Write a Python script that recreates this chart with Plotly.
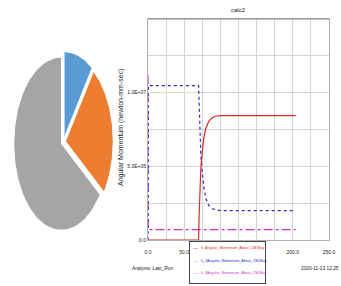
import numpy as np
import plotly.graph_objects as go

W, H = 341, 286

# ---------------- data ----------------
pie_values = [10, 25, 65]
pie_colors = ["#5B9BD5", "#ED7D31", "#A5A5A5"]

chart_title = "calc2"
y_title = "Angular Momentum (newton-mm-sec)"
x_tickvals = [0, 25, 50, 75, 100, 125, 150, 175, 200, 225, 250]
x_ticktext = ["0.0", "", "50.0", "", "100.0", "", "150.0", "", "200.0", "", "250.0"]
y_tickvals = [0, 2.5e6, 5.0e6, 7.5e6, 1.0e7, 1.25e7, 1.5e7]
y_ticktext = ["0.0", "", "5.0E+06", "", "1.0E+07", "", ""]

series_names = ["h_Angular_Momentum_About_CM.Mag",
                "h_2Angular_Momentum_About_CM.Mag",
                "h_3Angular_Momentum_About_CM.Mag"]
series_colors = ["#d92b2b", "#2a2ad0", "#d030c8"]
series_dash = ["solid", "dot", "dashdot"]
series_glyph = ["\u2014", "\u00b7\u00b7\u00b7", "-\u00b7-"]

t1 = [0, 69.9, 70.5, 71.5, 73, 75, 77, 80, 84, 88, 93, 100, 204]
h1 = [0, 0, 1.5e6, 3.3e6, 4.9e6, 6.0e6, 6.9e6, 7.6e6, 8.05e6, 8.28e6, 8.40e6, 8.44e6, 8.44e6]

t2 = [0, 0.3, 69.9, 70.5, 71.5, 73, 75, 77, 80, 84, 88, 93, 100, 204]
h2 = [0, 1.048e7, 1.048e7, 9.3e6, 7.4e6, 5.7e6, 4.6e6, 3.6e6, 2.8e6, 2.35e6, 2.15e6, 2.05e6, 2.0e6, 2.0e6]

t3 = [0, 0.4, 204]
h3 = [1.12e7, 0.7e6, 0.7e6]

t4 = [0.4, 69.9]
h4 = [1.0e7, 1.0e7]

analysis_text = "Analysis: Last_Run"
date_text = "2020-11-13 12:25"

# ---------------- layout constants ----------------
FONT = "Liberation Sans, Arial, sans-serif"
PX0, PX1, PY0, PY1 = 148, 329, 19, 240   # plot area pixels
PULL = 0.045
CX, CY, A, B = 63.4, 141.9, 47.7, 86.6   # pie ellipse center / semi-axes (px)


def px(x):
    return x / W


def py(y):
    return 1 - y / H


fig = go.Figure()

# ---------------- pie (elliptical, exploded) ----------------
total = float(sum(pie_values))
start = 0.0
for v, c in zip(pie_values, pie_colors):
    a0 = start / total * 2 * np.pi
    a1 = (start + v) / total * 2 * np.pi
    mid = (a0 + a1) / 2
    ox, oy = PULL * np.sin(mid), PULL * np.cos(mid)
    th = np.linspace(a0, a1, 80)
    xs = np.concatenate([[0], np.sin(th), [0]]) + ox
    ys = np.concatenate([[0], np.cos(th), [0]]) + oy
    fig.add_trace(go.Scatter(x=xs, y=ys, mode="lines", fill="toself", fillcolor=c,
                             line=dict(color="white", width=1),
                             xaxis="x2", yaxis="y2", showlegend=False, hoverinfo="skip"))
    start += v

# ---------------- line chart ----------------
fig.add_trace(go.Scatter(x=t4, y=h4, mode="lines", line=dict(color="#f2eaa0", width=1, dash="dot"),
                         showlegend=False, hoverinfo="skip"))
for t, h, name, col, dash in [(t3, h3, series_names[2], series_colors[2], series_dash[2]),
                              (t2, h2, series_names[1], series_colors[1], series_dash[1]),
                              (t1, h1, series_names[0], series_colors[0], series_dash[0])]:
    fig.add_trace(go.Scatter(x=t, y=h, mode="lines", name=name,
                             line=dict(color=col, width=1.2, dash=dash), showlegend=False))

fig.update_layout(
    width=W, height=H, autosize=False,
    margin=dict(l=0, r=0, t=0, b=0, pad=0),
    paper_bgcolor="white", plot_bgcolor="white",
    font=dict(family=FONT, size=6, color="#222"),
    xaxis=dict(domain=[px(PX0), px(PX1)], range=[0, 250], tickvals=x_tickvals, ticktext=x_ticktext,
               showgrid=True, gridcolor="#d4d4d4", gridwidth=1, zeroline=False, automargin=False,
               showline=True, linecolor="#b0b0b0", mirror=True, ticks="", ticklabelstandoff=7,
               tickfont=dict(size=5, family=FONT, color="#222")),
    yaxis=dict(domain=[py(PY1), py(PY0)], range=[0, 1.5e7], tickvals=y_tickvals, ticktext=y_ticktext,
               showgrid=True, gridcolor="#d4d4d4", gridwidth=1, zeroline=False, automargin=False,
               showline=True, linecolor="#b0b0b0", mirror=True, ticks="",
               tickfont=dict(size=5, family=FONT, color="#222")),
    xaxis2=dict(domain=[0, px(130)], range=[(0 - CX) / A, (130 - CX) / A], visible=False,
                fixedrange=True, automargin=False),
    yaxis2=dict(domain=[0, 1], range=[(CY - H) / B, CY / B], visible=False,
                fixedrange=True, automargin=False),
    showlegend=False,
)

# top border darker
fig.add_shape(type="line", xref="paper", yref="paper", x0=px(PX0), x1=px(PX1), y0=py(PY0), y1=py(PY0),
              line=dict(color="#888", width=1))

annotations = [
    dict(text=chart_title, x=px(238), y=py(10), xref="paper", yref="paper", showarrow=False,
         xanchor="center", yanchor="middle", font=dict(size=6, family=FONT, color="#222")),
    dict(text=y_title, x=px(121), y=py(128), xref="paper", yref="paper", showarrow=False, textangle=-90,
         xanchor="center", yanchor="middle", font=dict(size=7, family=FONT, color="#222")),
    dict(text=analysis_text, x=px(130), y=py(268), xref="paper", yref="paper", showarrow=False,
         xanchor="left", yanchor="middle", font=dict(size=4.8, family=FONT, color="#222")),
    dict(text=date_text, x=px(341), y=py(268), xref="paper", yref="paper", showarrow=False,
         xanchor="right", yanchor="middle", font=dict(size=4.8, family=FONT, color="#222")),
]

# legend box (annotation so it covers the tick labels beneath it)
LX0, LX1, LY0, LY1 = 189, 266, 241, 284
annotations.append(dict(text=" ", x=px((LX0 + LX1) / 2), y=py((LY0 + LY1) / 2), xref="paper", yref="paper",
                        xanchor="center", yanchor="middle",
                        showarrow=False, width=LX1 - LX0 - 2, height=LY1 - LY0 - 2, bgcolor="white",
                        bordercolor="#444", borderwidth=1, borderpad=0))
rows = [248, 260.5, 273]
for name, col, glyph, ry in zip(series_names, series_colors, series_glyph, rows):
    annotations.append(dict(text=glyph, x=px(195), y=py(ry), xref="paper", yref="paper", showarrow=False,
                            xanchor="center", yanchor="middle",
                            font=dict(size=5, family=FONT, color=col)))
    annotations.append(dict(text=name, x=px(199), y=py(ry), xref="paper", yref="paper", showarrow=False,
                            xanchor="left", yanchor="middle",
                            font=dict(size=3.6, family=FONT, color=col)))

fig.update_layout(annotations=annotations)

fig.write_html("out.html")
